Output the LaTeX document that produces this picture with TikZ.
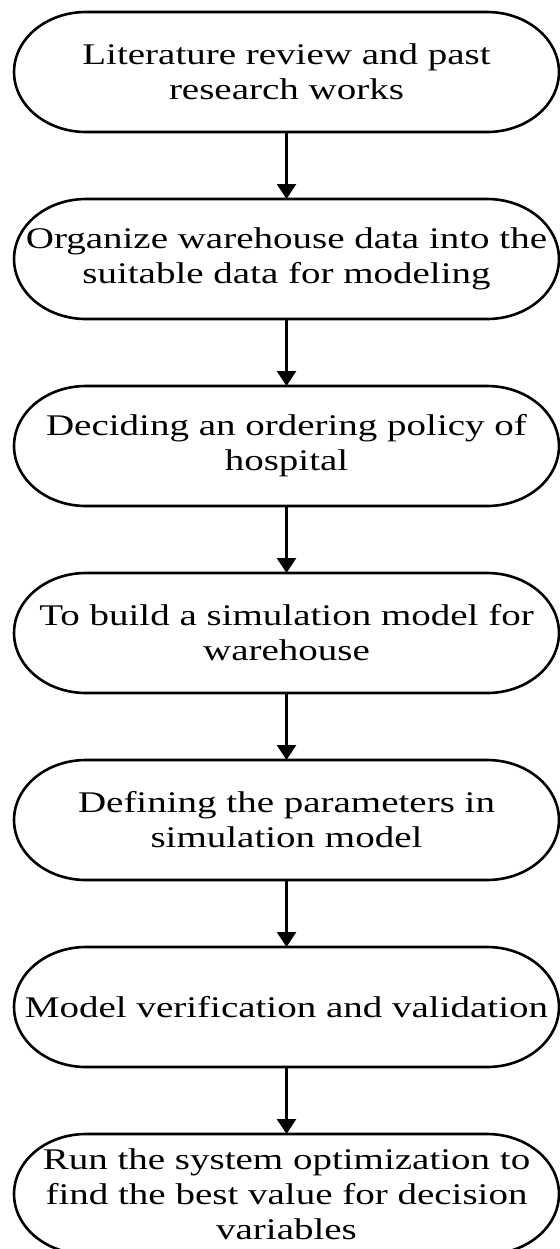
\documentclass[tikz,border=0pt]{standalone}
\usepackage{fontspec}
\setmainfont{Liberation Serif}
\usetikzlibrary{positioning,arrows.meta}
\tikzset{
	stepbox/.style={rectangle,xscale=1.3,minimum width=209.6pt,minimum height=60pt,
		inner sep=0pt,outer sep=0pt,align=center,font=\fontsize{15pt}{17.5pt}\selectfont},
	flow/.style={line width=1.3pt,-{Triangle[length=7.5pt,width=9.5pt]}}
}
\begin{document}
\begin{tikzpicture}[node distance=33.5pt]
		\useasboundingbox (0,0) rectangle (280pt,-624.5pt);
		\node[stepbox] (lit) at (143.25pt,-36pt) {Literature review and past\\research works};
		\node[stepbox,below=of lit] (org) {Organize warehouse data into the\\suitable data for modeling};
		\node[stepbox,below=of org] (pol) {Deciding an ordering policy of\\hospital};
		\node[stepbox,below=of pol] (sim) {To build a simulation model for\\warehouse};
		\node[stepbox,below=of sim] (par) {Defining the parameters in\\simulation model};
		\node[stepbox,below=of par] (val) {Model verification and validation};
		\node[stepbox,below=of val] (opt) {Run the system optimization to\\find the best value for decision\\variables};
		% rounded outlines
		\foreach \n in {lit,org,pol,sim,par,val,opt}
			\draw[line width=1.3pt] ([xshift=36pt]\n.north west) -- ([xshift=-36pt]\n.north east)
				arc[start angle=90,end angle=-90,x radius=36pt,y radius=30pt]
				-- ([xshift=36pt]\n.south west)
				arc[start angle=270,end angle=90,x radius=36pt,y radius=30pt] -- cycle;
		\foreach \a/\b in {lit/org,org/pol,pol/sim,sim/par,par/val,val/opt}
			\draw[flow] (\a) -- (\b);
	\end{tikzpicture}
\end{document}
